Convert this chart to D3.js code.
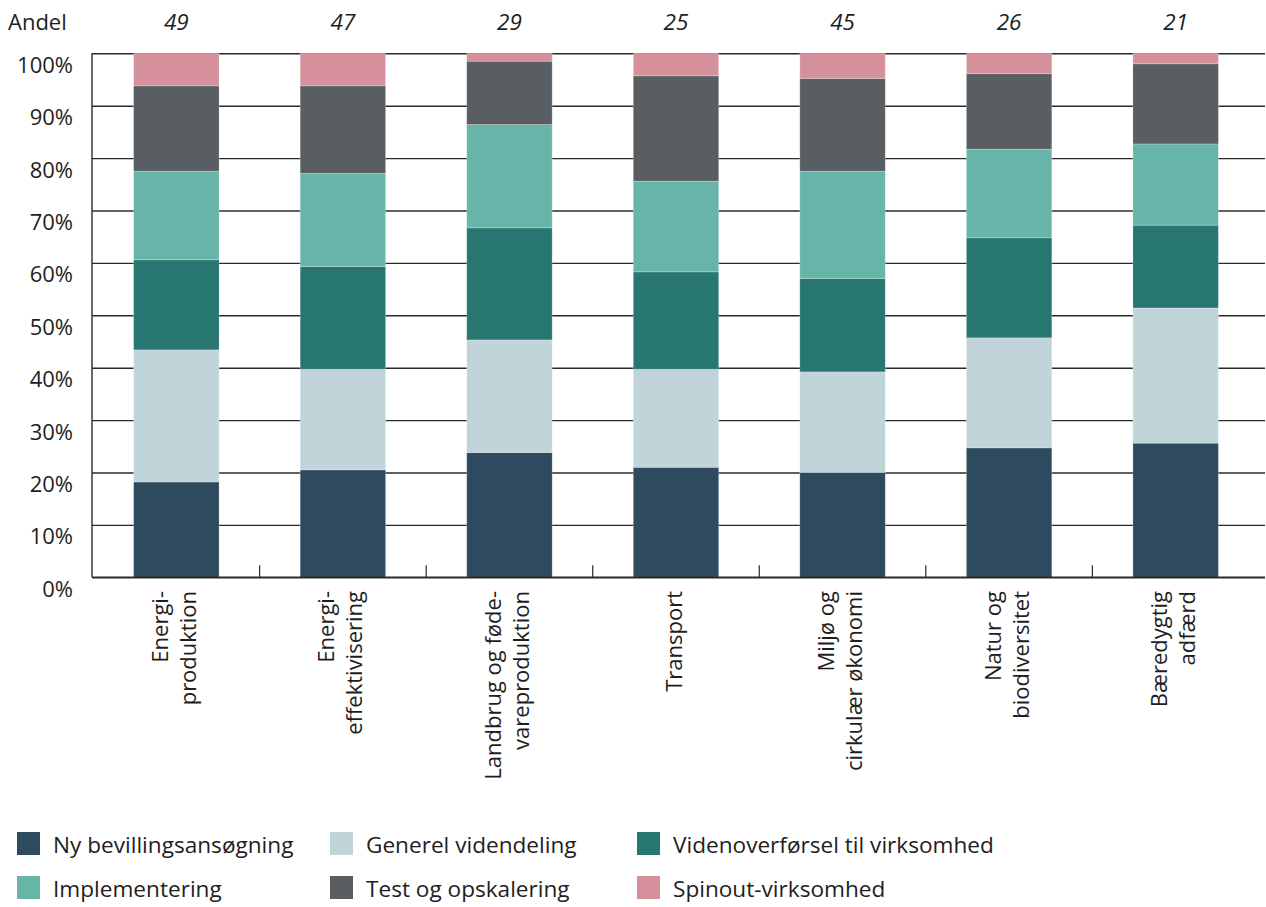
<!DOCTYPE html>
<html>
<head>
<script src='https://d3js.org/d3.v7.min.js'></script>
<style>
body {margin:0; background:#fff;}
text {font-family:'Open Sans', sans-serif; fill:#1e1e1e;}
</style>
</head>
<body>
<svg id='chart' width=1266 height=907></svg>
<script>
// categories (line-broken as in the chart) and number of projects on top
var categories = [['Energi-','produktion'],['Energi-','effektivisering'],['Landbrug og føde-','vareproduktion'],['Transport'],['Miljø og','cirkulær økonomi'],['Natur og','biodiversitet'],['Bæredygtig','adfærd']]
var counts = [49,47,29,25,45,26,21]

var seriesNames = ['Ny bevillingsansøgning','Generel videndeling','Videnoverførsel til virksomhed','Implementering','Test og opskalering','Spinout-virksomhed']
var colors = ['#2e4a5f','#c0d4da','#277672','#67b4a9','#585e61','#d5909c']

// shares in percent, per series
var ny = [18.2,20.5,23.8,21.0,20.0,24.7,25.6]
var generel = [25.2,19.2,21.5,18.7,19.2,21.0,25.8]
var viden = [17.2,19.6,21.4,18.6,17.8,19.1,15.8]
var impl = [16.9,17.8,19.7,17.3,20.5,16.9,15.5]
var test = [16.3,16.7,12.1,20.1,17.7,14.4,15.3]
var spin = [6.2,6.2,1.5,4.3,4.8,3.9,2.0]
var seriesValues = [ny,generel,viden,impl,test,spin]

var plotL = 92, plotR = 1265, plotT = 53.3, plotB = 577.3

var svg = d3.select('#chart')

var table = categories.map(function(c,i) {
  var row = {key:i}
  seriesNames.forEach(function(s,j) {row[s] = seriesValues[j][i]/100})
  return row
})

var x = d3.scaleBand().domain(d3.range(categories.length)).range([plotL,1260]).paddingInner(0.487).paddingOuter(0.25)
var y = d3.scaleLinear().domain([0,1]).range([plotB,plotT])

//gridlines + y labels
var yAxis = svg.append('g')
  .attr('transform','translate('+plotL+',0)')
  .call(d3.axisLeft(y).ticks(10,'.0%').tickSize(-(plotR-plotL)).tickPadding(19))
yAxis.select('.domain').remove()
yAxis.selectAll('line').attr('stroke','#2a2a2a').attr('stroke-width',1.4)
yAxis.selectAll('text').attr('dy',19).attr('font-size',22).attr('fill','#1e1e1e').style('font-family',"'Open Sans', sans-serif")

//stacked bars
var stack = d3.stack().keys(seriesNames)(table)
svg.append('g').selectAll('g')
  .data(stack)
  .enter()
  .append('g')
    .attr('fill',function(d,i) {return colors[i]})
  .selectAll('rect')
  .data(function(d) {return d})
  .enter()
  .append('rect')
    .attr('x',function(d) {return x(d.data.key)})
    .attr('width',x.bandwidth())
    .attr('y',function(d) {return y(d[1])})
    .attr('height',function(d) {return y(d[0])-y(d[1])})
    .attr('stroke','#ffffff')
    .attr('stroke-opacity',0.3)
    .attr('stroke-width',0.8)

//axis lines
svg.append('line').attr('x1',plotL).attr('x2',plotL).attr('y1',plotT).attr('y2',plotB)
  .attr('stroke','#2a2a2a').attr('stroke-width',1.4)
svg.append('line').attr('x1',plotL).attr('x2',plotR).attr('y1',plotB).attr('y2',plotB)
  .attr('stroke','#2a2a2a').attr('stroke-width',1.4)

//category separator ticks
svg.append('g').selectAll('line')
  .data(x.domain().slice(1))
  .enter()
  .append('line')
    .attr('x1',function(d) {return x(d)-x.step()*x.paddingInner()/2})
    .attr('x2',function(d) {return x(d)-x.step()*x.paddingInner()/2})
    .attr('y1',plotB-12)
    .attr('y2',plotB)
    .attr('stroke','#2a2a2a')
    .attr('stroke-width',1.2)

//rotated category labels
var lineH = 28
svg.append('g').selectAll('text')
  .data(categories)
  .enter()
  .append('text')
    .attr('transform',function(d,i) {return 'translate('+(x(i)+x.bandwidth()/2)+',591) rotate(-90)'})
    .attr('text-anchor','end')
    .attr('font-size',22)
  .selectAll('tspan')
  .data(function(d) {return d.map(function(t,k) {return {t:t,k:k,n:d.length}})})
  .enter()
  .append('tspan')
    .attr('x',0)
    .attr('y',function(d) {return 5.5+(d.k-(d.n-1)/2)*lineH})
    .text(function(d) {return d.t})

//counts on top
svg.append('g').selectAll('text')
  .data(counts)
  .enter()
  .append('text')
    .attr('x',function(d,i) {return x(i)+x.bandwidth()/2})
    .attr('y',30)
    .attr('text-anchor','middle')
    .attr('font-size',22.5)
    .attr('font-style','italic')
    .text(function(d) {return d})

svg.append('text').attr('x',8).attr('y',30).attr('font-size',22).text('Andel')

//legend
var legX = [17,330,637]
var legY = [832,876]
var leg = svg.append('g').selectAll('g')
  .data(seriesNames)
  .enter()
  .append('g')
    .attr('transform',function(d,i) {return 'translate('+legX[i%3]+','+legY[Math.floor(i/3)]+')'})
leg.append('rect')
  .attr('width',23).attr('height',23)
  .attr('fill',function(d,i) {return colors[i]})
leg.append('text')
  .attr('x',36).attr('y',21)
  .attr('font-size',22.6)
  .text(function(d) {return d})
</script>
</body>
</html>
